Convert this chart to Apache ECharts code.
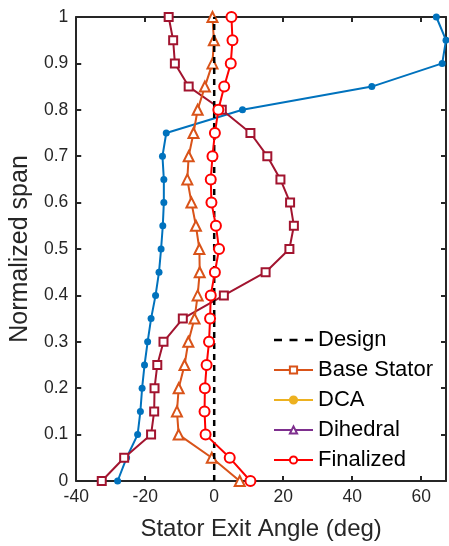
<!DOCTYPE html>
<html>
<head>
<meta charset="utf-8">
<script src="https://cdn.jsdelivr.net/npm/echarts@6/dist/echarts.min.js"></script>
<style>html,body{margin:0;padding:0;background:#fff;}#c{width:449px;height:546px;}</style>
</head>
<body>
<div id="c"></div>
<script>
// Normalized span positions
var span = [0,0.05,0.1,0.15,0.2,0.25,0.3,0.35,0.4,0.45,0.5,0.55,0.6,0.65,0.7,0.75,0.8,0.85,0.9,0.95,1.0];
// Stator exit angle (deg)
var designX = [0, 0];
var designSpan = [0, 1];
var baseStator = [-32.6,-26.1,-18.3,-17.4,-17.3,-16.5,-14.7,-9.1,2.8,14.9,21.8,23.1,22.0,19.2,15.4,10.5,2.2,-7.4,-11.4,-11.9,-13.2];
var dca = [-28.0,-25.4,-22.2,-21.4,-20.9,-20.2,-19.3,-18.3,-17.0,-16.0,-15.4,-14.9,-14.6,-14.6,-15.0,-13.9,8.2,45.7,66.1,67.2,64.4];
var dihedral = [7.4,-0.7,-10.3,-10.8,-10.3,-8.6,-7.5,-5.7,-4.8,-4.2,-4.3,-5.3,-6.6,-7.8,-7.4,-6.0,-4.8,-2.7,-0.5,-0.1,-0.5];
var finalized = [10.5,4.5,-2.5,-2.8,-2.7,-2.2,-1.5,-1.2,-1.0,0.2,1.4,0.5,-0.8,-1.0,-0.5,0.2,1.2,2.9,4.8,5.3,5.0];
var legendNames = ['Design','Base Stator','DCA','Dihedral','Finalized'];
var xTicks = [-40,-20,0,20,40,60];

function pairs(xs, ys){ return xs.map(function(v,i){ return [v, ys[i]]; }); }

var FONT = 'Liberation Sans';
var axisCol = '#262626';

var chart = echarts.init(document.getElementById('c'), null, {renderer:'canvas'});

function legendSeries(name, color, symbol){
  return {name:name, type:'line', data:[], symbol:symbol, symbolSize:7,
    lineStyle:{color:color, width:2}, itemStyle:{color:color, borderColor:color, borderWidth:1.5}};
}

var option = {
  animation:false,
  backgroundColor:'#fff',
  grid:{left:75, right:3, top:17, bottom:62, containLabel:false},
  legend:{
    orient:'vertical', left:268, top:324,
    itemWidth:39, itemHeight:9, itemGap:8,
    textStyle:{fontFamily:FONT, fontSize:22, color:'#000', lineHeight:22},
    data:[
      {name:'Design', icon:'path://M0,0h8v2.4h-8zM15.5,0h8v2.4h-8zM31,0h8v2.4h-8z', itemStyle:{color:'#000'}},
      'Base Stator','DCA','Dihedral','Finalized'
    ]
  },
  xAxis:[{
    type:'value', min:-40, max:67.2, interval:20, position:'bottom',
    name:'Stator Exit Angle (deg)', nameLocation:'middle', nameGap:36,
    nameTextStyle:{fontFamily:FONT, fontSize:24, color:axisCol},
    axisLine:{show:true, onZero:false, lineStyle:{color:axisCol, width:2}},
    axisTick:{show:true, inside:true, length:5, lineStyle:{color:axisCol, width:2}},
    axisLabel:{fontFamily:FONT, fontSize:17.5, color:axisCol, margin:7, showMaxLabel:false,
      formatter:function(v){ return xTicks.indexOf(Math.round(v))>=0 && Math.abs(v-Math.round(v))<1e-6 ? String(Math.round(v)) : ''; }},
    splitLine:{show:false}
  },{
    type:'value', min:-40, max:67.2, interval:20, position:'top',
    axisLine:{show:true, onZero:false, lineStyle:{color:axisCol, width:2}},
    axisTick:{show:true, inside:true, length:5, lineStyle:{color:axisCol, width:2}},
    axisLabel:{show:false}, splitLine:{show:false}
  }],
  yAxis:[{
    type:'value', min:0, max:1, interval:0.1, position:'left',
    name:'Normalized span', nameLocation:'middle', nameGap:37,
    nameTextStyle:{fontFamily:FONT, fontSize:25, color:axisCol},
    axisLine:{show:true, onZero:false, lineStyle:{color:axisCol, width:2}},
    axisTick:{show:true, inside:true, length:5, lineStyle:{color:axisCol, width:2}},
    axisLabel:{fontFamily:FONT, fontSize:17.5, color:axisCol, margin:8,
      formatter:function(v){ return String(Math.round(v*10)/10); }},
    splitLine:{show:false}
  },{
    type:'value', min:0, max:1, interval:0.1, position:'right',
    axisLine:{show:true, onZero:false, lineStyle:{color:axisCol, width:2}},
    axisTick:{show:true, inside:true, length:5, lineStyle:{color:axisCol, width:2}},
    axisLabel:{show:false}, splitLine:{show:false}
  }],
  series:[
    // legend-only entries (colors as shown in the legend)
    {name:'Design', type:'line', data:[], symbol:'none', lineStyle:{color:'#000', width:2.5, type:[6,5]}, itemStyle:{color:'#000'}},
    legendSeries('Base Stator', '#D95319', 'emptyRect'),
    legendSeries('DCA', '#EDB120', 'circle'),
    legendSeries('Dihedral', '#7E2F8E', 'emptyTriangle'),
    legendSeries('Finalized', '#FF0000', 'emptyCircle'),
    // plotted data
    {name:'DCA', type:'line', data:pairs(dca, span), symbol:'circle', symbolSize:7,
      lineStyle:{color:'#0072BD', width:2}, itemStyle:{color:'#0072BD'}, z:3},
    {name:'Base Stator', type:'line', data:pairs(baseStator, span), symbol:'emptyRect', symbolSize:8,
      lineStyle:{color:'#A2142F', width:2}, itemStyle:{color:'#A2142F', borderColor:'#A2142F', borderWidth:1.5}, z:3},
    {name:'Dihedral', type:'line', data:pairs(dihedral, span), symbol:'emptyTriangle', symbolSize:10,
      lineStyle:{color:'#D95319', width:2}, itemStyle:{color:'#D95319', borderColor:'#D95319', borderWidth:1.5}, z:3},
    {name:'Design', type:'line', data:pairs(designX, designSpan), symbol:'none',
      lineStyle:{color:'#000', width:2.5, type:[6,5]}, z:4},
    {name:'Finalized', type:'line', data:pairs(finalized, span), symbol:'emptyCircle', symbolSize:10,
      lineStyle:{color:'#FF0000', width:2}, itemStyle:{color:'#FF0000', borderColor:'#FF0000', borderWidth:2}, z:5}
  ]
};
chart.setOption(option);
</script>
</body>
</html>
